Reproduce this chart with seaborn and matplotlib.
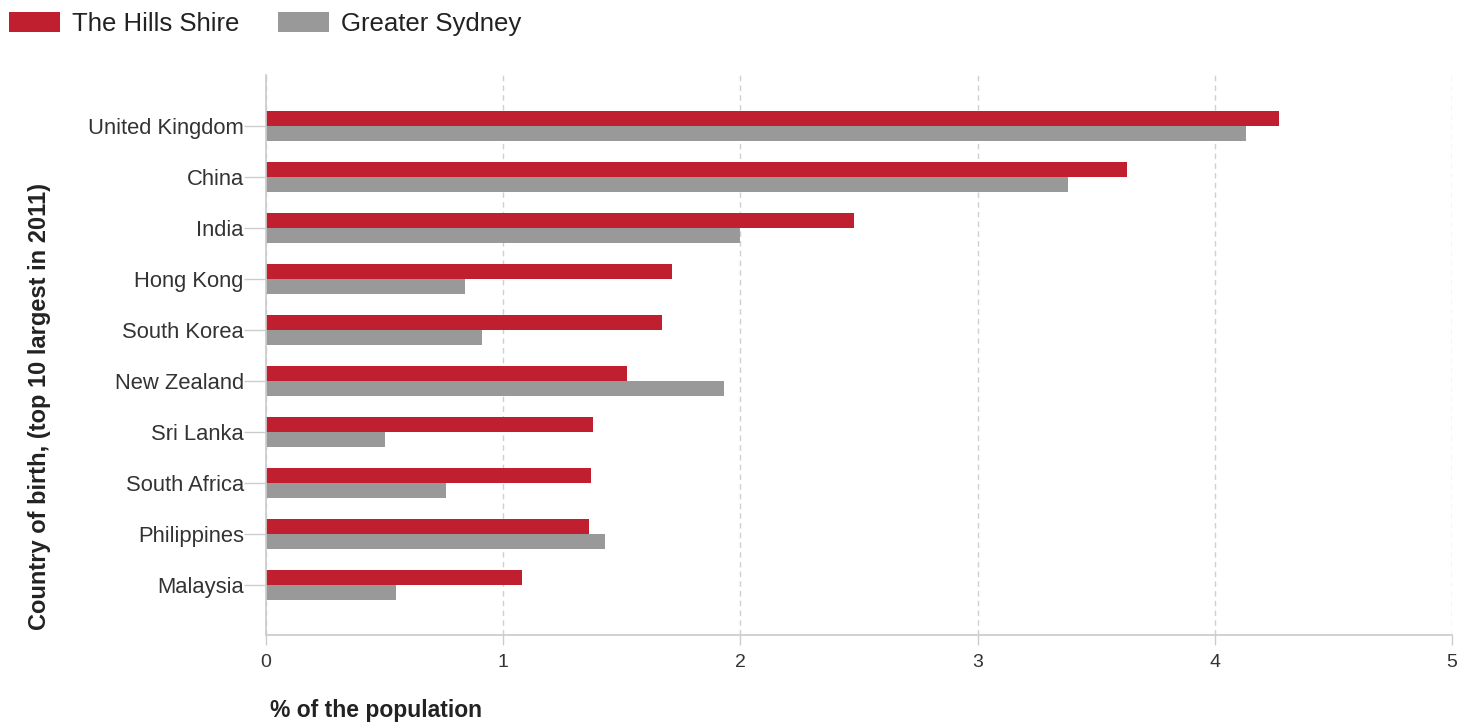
import matplotlib
matplotlib.use("Agg")
import matplotlib.pyplot as plt
import seaborn as sns
import pandas as pd
from matplotlib.patches import Patch

countries = ["United Kingdom", "China", "India", "Hong Kong", "South Korea",
             "New Zealand", "Sri Lanka", "South Africa", "Philippines", "Malaysia"]
hills = [4.27, 3.63, 2.48, 1.71, 1.67, 1.52, 1.38, 1.37, 1.36, 1.08]
sydney = [4.13, 3.38, 2.00, 0.84, 0.91, 1.93, 0.50, 0.76, 1.43, 0.55]
series = ["The Hills Shire", "Greater Sydney"]
colors = ["#C01F2F", "#999999"]

df = pd.DataFrame({
    "country": countries * 2,
    "value": hills + sydney,
    "area": [series[0]] * len(countries) + [series[1]] * len(countries),
})

sns.set_theme(style="white")
plt.rcParams['font.family'] = ['Liberation Sans', 'DejaVu Sans']

fig = plt.figure(figsize=(14.74, 7.27), dpi=100)
ax = fig.add_axes([0.1805, 0.1265, 0.985 - 0.1805, 0.8968 - 0.1265])

sns.barplot(data=df, x="value", y="country", hue="area", order=countries,
            hue_order=series, palette=colors, width=0.6, orient="h",
            ax=ax, legend=False, saturation=1, linewidth=0)

ax.set_xlim(0, 5)
ax.set_ylim(9.98, -1)
ax.set_xticks([0, 1, 2, 3, 4, 5])
ax.set_xticklabels(["0", "1", "2", "3", "4", "5"], fontsize=14, color="#333333")
ax.tick_params(axis="x", length=7, width=1, color="#cccccc", pad=7, bottom=True)
ax.tick_params(axis="y", length=16, width=1, color="#cccccc", labelsize=15.8,
               labelcolor="#333333", pad=0, left=True)
for sp in ["top", "right"]:
    ax.spines[sp].set_visible(False)
ax.spines["left"].set_color("#cccccc")
ax.spines["bottom"].set_color("#cccccc")
ax.grid(axis="x", linestyle=(0, (4, 3)), color="#d0d0d0", linewidth=1)
ax.set_axisbelow(True)

ax.set_xlabel("")
ax.set_ylabel("")
fig.text(0.183, 1 - 711 / 727, "% of the population", fontsize=16.5, fontweight="bold",
         color="#222222", ha="left", va="center")
fig.text(0.027, 1 - 407 / 727, "Country of birth, (top 10 largest in 2011)", fontsize=17,
         fontweight="bold", color="#222222", rotation=90, ha="center", va="center")

handles = [Patch(facecolor=c, edgecolor="none") for c in colors]
fig.legend(handles, series, loc="center left", bbox_to_anchor=(9 / 1474, 1 - 24 / 727),
           ncol=2, frameon=False, fontsize=18.5, handlelength=2.0, handleheight=0.85,
           columnspacing=1.5, handletextpad=0.45, labelcolor="#222222",
           borderpad=0, borderaxespad=0)

fig.savefig("out.png", dpi=100)
